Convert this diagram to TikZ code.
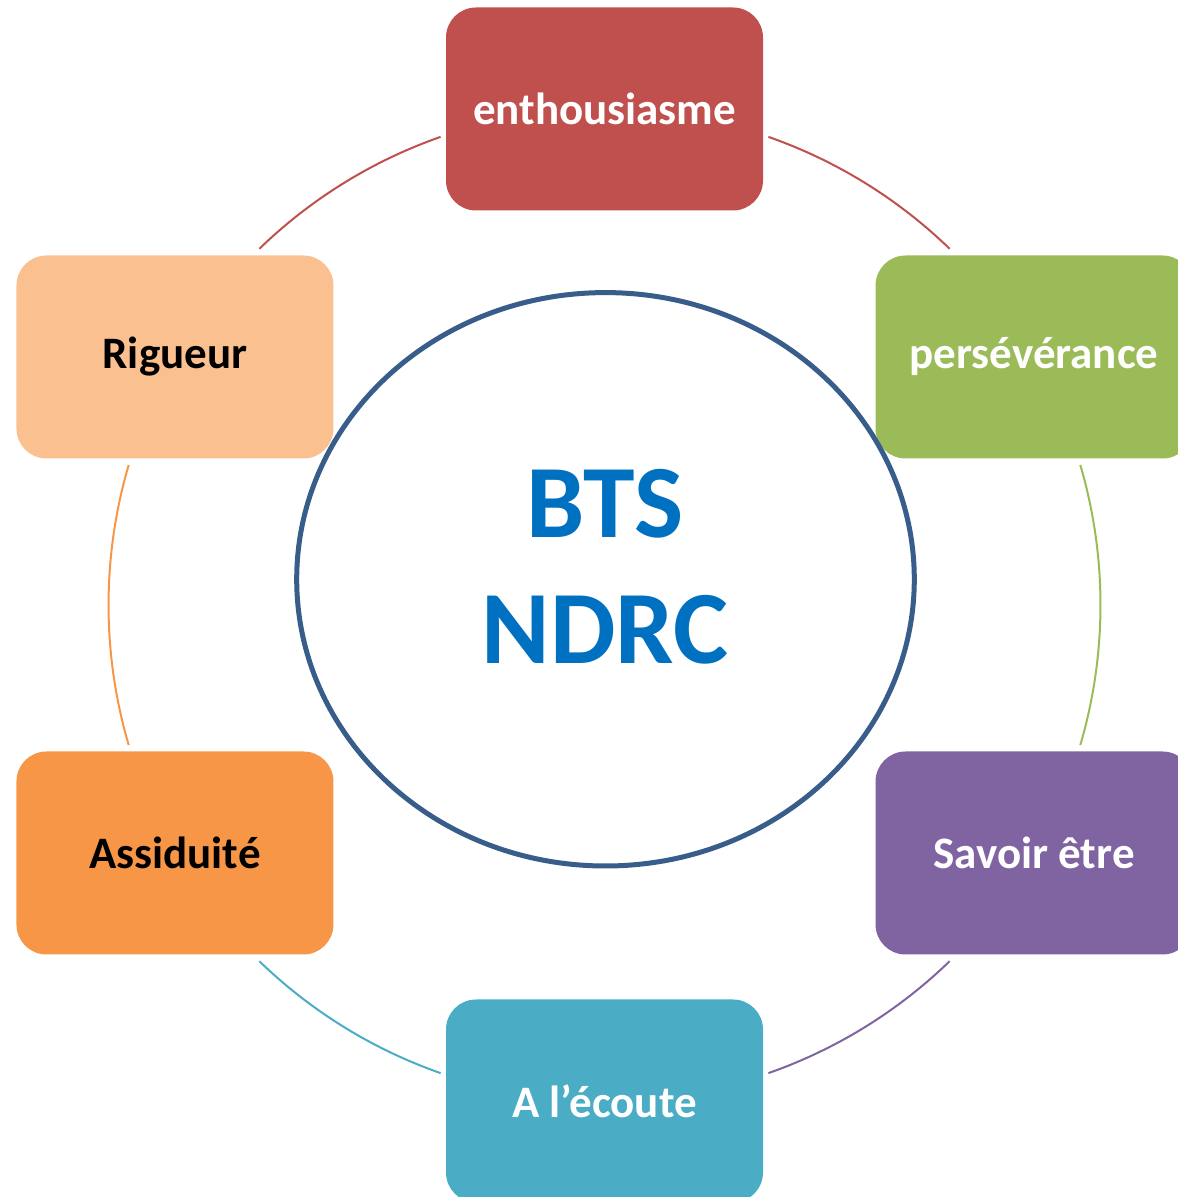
\documentclass[tikz,border=0pt]{standalone}
\usepackage{fontspec}
\setmainfont{Carlito}
\usetikzlibrary{calc}
\definecolor{cred}{HTML}{C0504D}
\definecolor{cgreen}{HTML}{9BBB59}
\definecolor{cpurple}{HTML}{8064A2}
\definecolor{cblue}{HTML}{4BACC6}
\definecolor{corange}{HTML}{F79646}
\definecolor{clight}{HTML}{FAC090}
\definecolor{ccircle}{HTML}{385D8A}
\definecolor{ctitle}{HTML}{0070C0}
\begin{document}
\begin{tikzpicture}[x=1pt,y=1pt,
  item/.style={rounded corners=30pt, minimum width=317pt, minimum height=203pt,
    inner sep=0pt, font=\fontsize{45}{54}\selectfont\bfseries, text=white},
  ring/.style={line width=2pt}]
\useasboundingbox (0,0) rectangle (1178,1197);
\clip (0,0) rectangle (1178,1197);
\coordinate (c) at (604.5,592);
% ring arcs
\draw[ring, cred]    (c) ++(70.7:496)   arc[start angle=70.7,  end angle=45.9,   radius=496];
\draw[ring, cgreen]  (c) ++(16.4:496)   arc[start angle=16.4,  end angle=-16.4,  radius=496];
\draw[ring, cpurple] (c) ++(-45.9:496)  arc[start angle=-45.9, end angle=-70.7,  radius=496];
\draw[ring, cblue]   (c) ++(-109.3:496) arc[start angle=-109.3,end angle=-134.1, radius=496];
\draw[ring, corange] (c) ++(-163.6:496) arc[start angle=-163.6,end angle=-196.4, radius=496];
\draw[ring, cred]    (c) ++(134.1:496)  arc[start angle=134.1, end angle=109.3,  radius=496];
% boxes
\node[item, fill=cred]    (enth) at ($(c)+(90:496)$)   {enthousiasme};
\node[item, fill=cgreen]  (pers) at ($(c)+(30:496)$)   {persévérance};
\node[item, fill=cpurple] (savo) at ($(c)+(-30:496)$)  {Savoir être};
\node[item, fill=cblue]   (ecou) at ($(c)+(-90:496)$)  {A l’écoute};
\node[item, fill=corange, text=black] (assi) at ($(c)+(-150:496)$) {Assiduité};
\node[item, fill=clight, text=black]  (rigu) at ($(c)+(150:496)$)  {Rigueur};
% centre
\draw[ccircle, line width=5pt, fill=white] (605.5,617.7) ellipse[x radius=308.8, y radius=286.7];
\node[text=ctitle, align=center, font=\fontsize{104}{126}\selectfont\bfseries] (title) at (605,630.5) {BTS\\NDRC};
\end{tikzpicture}
\end{document}
